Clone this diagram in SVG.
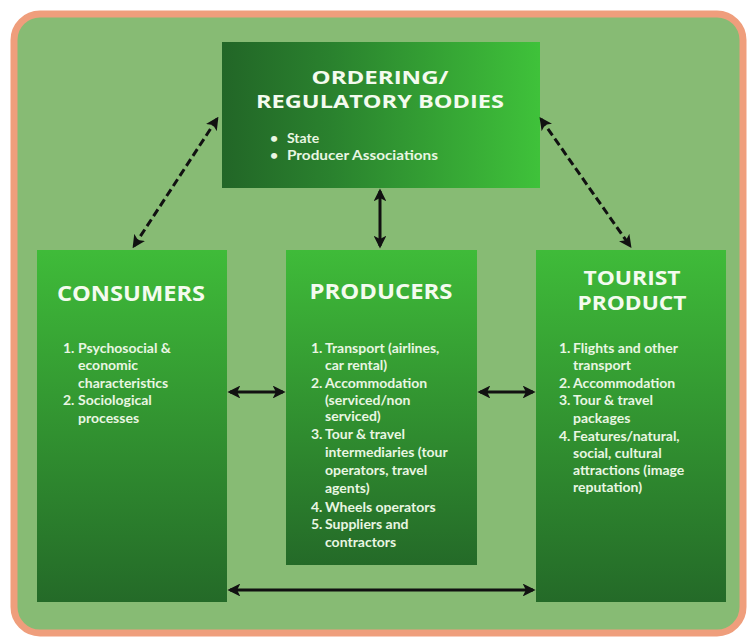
<svg xmlns="http://www.w3.org/2000/svg" width="750" height="638" viewBox="0 0 750 638">
<defs>
<linearGradient id="gv" x1="0" y1="0" x2="0" y2="1">
<stop offset="0" stop-color="#3fbb39"/>
<stop offset="1" stop-color="#246a28"/>
</linearGradient>
<linearGradient id="gh" x1="0" y1="0" x2="1" y2="0">
<stop offset="0" stop-color="#226627"/>
<stop offset="0.35" stop-color="#2a822e"/>
<stop offset="1" stop-color="#3fc23a"/>
</linearGradient>
<marker id="ah" viewBox="0 0 10 10" refX="8" refY="5" markerWidth="4.3" markerHeight="4.3" orient="auto-start-reverse" markerUnits="strokeWidth">
<path d="M0,0 L10,5 L0,10 L2.5,5 Z" fill="#111"/>
</marker>
<style>
.title{font-family:"Open Sans","DejaVu Sans",sans-serif;font-weight:bold;fill:#f4fbef;text-anchor:middle;dominant-baseline:central}
.li{font-family:Lato,"Liberation Sans",sans-serif;font-weight:bold;font-size:14px;fill:#e9f6e2;dominant-baseline:central}
.num{font-family:Lato,"Liberation Sans",sans-serif;font-weight:bold;font-size:14px;fill:#e9f6e2;dominant-baseline:central}
.solid{stroke:#111;stroke-width:3;fill:none;marker-start:url(#ah);marker-end:url(#ah)}
.dash{stroke:#111;stroke-width:3;fill:none;stroke-dasharray:8 4;marker-start:url(#ah);marker-end:url(#ah)}
</style>
</defs>
<rect width="750" height="638" fill="#ffffff"/>
<rect x="14" y="14" width="729" height="619" rx="26" ry="26" fill="#87bb74" stroke="#ef9e7c" stroke-width="7"/>

<g id="regulatory">
<rect x="222" y="42" width="318" height="146" fill="url(#gh)"/>
<text class="title" x="380" y="77" font-size="18" textLength="137" lengthAdjust="spacingAndGlyphs">ORDERING/</text>
<text class="title" x="380" y="101" font-size="18" textLength="248" lengthAdjust="spacingAndGlyphs">REGULATORY BODIES</text>
<text class="li" x="270" y="137">•</text>
<text class="li" x="287" y="137">State</text>
<text class="li" x="270" y="154">•</text>
<text class="li" x="287" y="154" textLength="151" lengthAdjust="spacingAndGlyphs">Producer Associations</text>
</g>

<g id="consumers">
<rect x="37" y="250" width="190" height="352" fill="url(#gv)"/>
<text class="title" x="131" y="292" font-size="22" textLength="148" lengthAdjust="spacingAndGlyphs">CONSUMERS</text>
<text class="num" x="63" y="347">1.</text>
<text class="li" x="78" y="347">Psychosocial &amp;</text>
<text class="li" x="78" y="364">economic</text>
<text class="li" x="78" y="382">characteristics</text>
<text class="num" x="63" y="399">2.</text>
<text class="li" x="78" y="399">Sociological</text>
<text class="li" x="78" y="417">processes</text>
</g>

<g id="producers">
<rect x="286" y="250" width="191" height="315" fill="url(#gv)"/>
<text class="title" x="381" y="290" font-size="22" textLength="143" lengthAdjust="spacingAndGlyphs">PRODUCERS</text>
<text class="num" x="311" y="347">1.</text>
<text class="li" x="325" y="347">Transport (airlines,</text>
<text class="li" x="325" y="364">car rental)</text>
<text class="num" x="311" y="382">2.</text>
<text class="li" x="325" y="382">Accommodation</text>
<text class="li" x="325" y="399">(serviced/non</text>
<text class="li" x="325" y="415">serviced)</text>
<text class="num" x="311" y="433">3.</text>
<text class="li" x="325" y="433">Tour &amp; travel</text>
<text class="li" x="325" y="451">intermediaries (tour</text>
<text class="li" x="325" y="469">operators, travel</text>
<text class="li" x="325" y="487">agents)</text>
<text class="num" x="311" y="506">4.</text>
<text class="li" x="325" y="506">Wheels operators</text>
<text class="num" x="311" y="523">5.</text>
<text class="li" x="325" y="523">Suppliers and</text>
<text class="li" x="325" y="541">contractors</text>
</g>

<g id="tourist-product">
<rect x="536" y="250" width="190" height="352" fill="url(#gv)"/>
<text class="title" x="632" y="278" font-size="19" textLength="97" lengthAdjust="spacingAndGlyphs">TOURIST</text>
<text class="title" x="632" y="303" font-size="19" textLength="109" lengthAdjust="spacingAndGlyphs">PRODUCT</text>
<text class="num" x="559" y="347">1.</text>
<text class="li" x="573" y="347">Flights and other</text>
<text class="li" x="573" y="364">transport</text>
<text class="num" x="559" y="382">2.</text>
<text class="li" x="573" y="382">Accommodation</text>
<text class="num" x="559" y="399">3.</text>
<text class="li" x="573" y="399">Tour &amp; travel</text>
<text class="li" x="573" y="417">packages</text>
<text class="num" x="559" y="435">4.</text>
<text class="li" x="573" y="435">Features/natural,</text>
<text class="li" x="573" y="452">social, cultural</text>
<text class="li" x="573" y="469">attractions (image</text>
<text class="li" x="573" y="486">reputation)</text>
</g>

<g id="connectors">
<line class="dash" x1="217" y1="119" x2="134" y2="246"/>
<line class="dash" x1="541" y1="119" x2="630" y2="246"/>
<line class="solid" x1="380" y1="191" x2="380" y2="246"/>
<line class="solid" x1="230" y1="392" x2="283" y2="392"/>
<line class="solid" x1="480" y1="392" x2="533" y2="392"/>
<line class="solid" x1="230" y1="590" x2="533" y2="590"/>
</g>
</svg>
